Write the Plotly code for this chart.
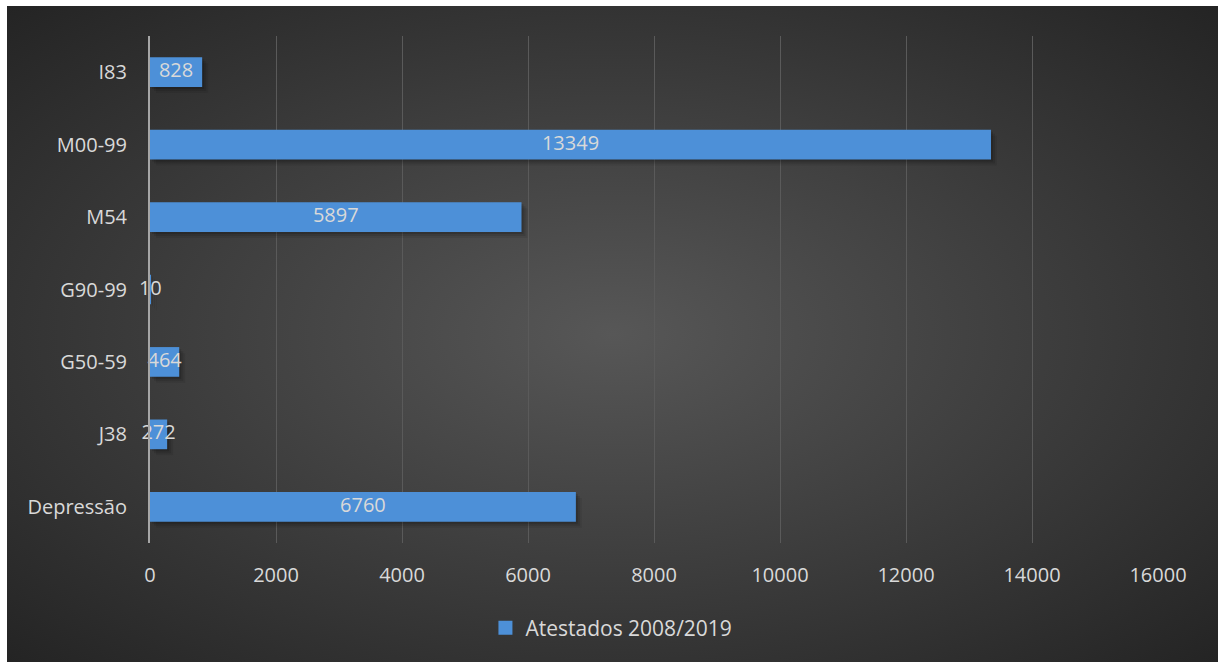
import base64
import plotly.graph_objects as go

# Atestados por grupo de CID, 2008/2019
categories = ["Depressão", "J38", "G50-59", "G90-99", "M54", "M00-99", "I83"]
values = [6760, 272, 464, 10, 5897, 13349, 828]
series_name = "Atestados 2008/2019"
x_ticks = [0, 2000, 4000, 6000, 8000, 10000, 12000, 14000, 16000]

W, H = 1218, 662
ML, MR, MT, MB = 150, 60, 36, 119
PW, PH = W - ML - MR, H - MT - MB
X_MAX = 16000
PX_X = X_MAX / PW          # data units per pixel along x
PX_Y = 7 / PH              # category units per pixel along y
BAR_W = 0.41

FONT = "Open Sans"
TXT = "#d9d9d9"
BAR = "#4d90d8"

# dark radial backdrop
svg = (
    "<svg xmlns='http://www.w3.org/2000/svg' width='1211' height='656' "
    "preserveAspectRatio='none' viewBox='0 0 1211 656'>"
    "<defs><radialGradient id='g' cx='50%' cy='50%' r='72%'>"
    "<stop offset='0' stop-color='#575757'/>"
    "<stop offset='1' stop-color='#232323'/>"
    "</radialGradient></defs>"
    "<rect width='1211' height='656' fill='url(#g)'/></svg>"
)
bg_src = "data:image/svg+xml;base64," + base64.b64encode(svg.encode()).decode()

fig = go.Figure()

# soft drop shadow under each bar, built from a few translucent layers
for k, alpha in [(6, 0.07), (4, 0.10), (2, 0.14)]:
    fig.add_trace(go.Bar(
        y=categories, x=values, orientation="h", width=BAR_W,
        offset=-BAR_W / 2 - k * PX_Y,
        base=[k * PX_X] * len(values),
        marker=dict(color=f"rgba(0,0,0,{alpha})", line=dict(width=0)),
        showlegend=False, hoverinfo="skip",
    ))

fig.add_trace(go.Bar(
    y=categories, x=values, orientation="h", width=BAR_W, offset=-BAR_W / 2,
    name=series_name, showlegend=False,
    marker=dict(color=BAR, line=dict(width=0)),
))

# legend entry with a square swatch
fig.add_trace(go.Scatter(
    x=[None], y=[None], mode="markers", name=series_name,
    marker=dict(symbol="square", size=14, color=BAR),
))

# value labels centred on each bar
fig.add_trace(go.Scatter(
    y=categories, x=[v / 2 for v in values], mode="text",
    text=[str(v) for v in values],
    textposition="middle center",
    textfont=dict(family=FONT, size=20, color=TXT),
    showlegend=False, hoverinfo="skip", cliponaxis=False,
))

fig.update_layout(
    width=W, height=H,
    margin=dict(l=ML, r=MR, t=MT, b=MB),
    paper_bgcolor="white",
    plot_bgcolor="rgba(0,0,0,0)",
    barmode="overlay",
    font=dict(family=FONT, color=TXT, size=20),
    images=[dict(
        source=bg_src, xref="paper", yref="paper",
        x=(7 - ML) / PW, y=(MT + PH - 6) / PH,
        sizex=(W - 7) / PW, sizey=(H - 6) / PH,
        xanchor="left", yanchor="top", sizing="stretch", layer="below",
    )],
    legend=dict(
        orientation="h", xref="container", yref="container",
        x=0.502, y=(H - 628) / H, xanchor="center", yanchor="middle",
        font=dict(family=FONT, size=21, color=TXT),
        bgcolor="rgba(0,0,0,0)", itemwidth=30,
    ),
    xaxis=dict(
        range=[0, X_MAX], tickvals=x_ticks,
        ticktext=[str(t) for t in x_ticks],
        showgrid=True, gridcolor="#5a5a5a", gridwidth=1,
        zeroline=False, showline=False, ticks="",
        ticklabelstandoff=18,
        tickfont=dict(family=FONT, size=20, color=TXT),
    ),
    yaxis=dict(
        range=[-0.5, 6.5], categoryorder="array", categoryarray=categories,
        showgrid=False, zeroline=False, ticks="",
        showline=True, linecolor="#a6a6a6", linewidth=2,
        ticklabelstandoff=17,
        tickfont=dict(family=FONT, size=20, color=TXT),
    ),
)

fig.write_html("out.html")
